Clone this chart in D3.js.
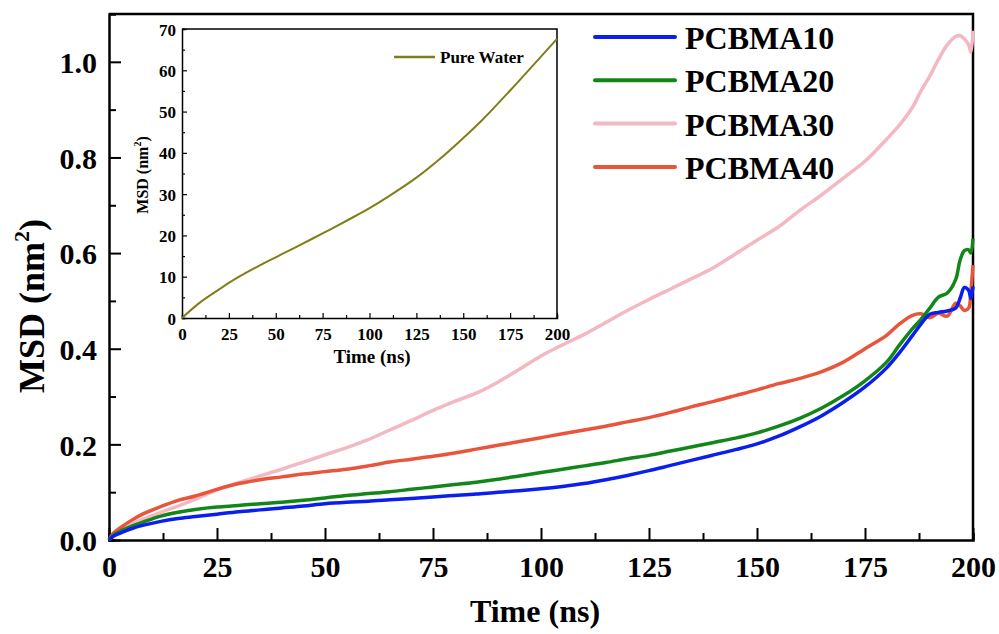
<!DOCTYPE html>
<html><head><meta charset="utf-8">
<script src="https://cdn.jsdelivr.net/npm/d3@7"></script>
<style>body{margin:0;background:#fff}svg{display:block}text{font-family:"Liberation Serif","Times New Roman",serif;font-weight:bold;fill:#000}</style>
</head><body>
<svg id="c" width="999" height="634"></svg>
<script>
const times = [0,1,3,5,8,12,16,20,25,30,35,40,45,50,55,60,65,70,75,80,85,90,95,100,105,110,115,120,125,130,135,140,145,150,155,160,165,170,175,180,183,186,188,190,192,194,196,197,198,199,199.5,200];
const pcbma10 = [0,0.008,0.016,0.023,0.031,0.039,0.045,0.049,0.054,0.059,0.063,0.067,0.071,0.076,0.079,0.081,0.084,0.087,0.090,0.093,0.096,0.100,0.103,0.107,0.112,0.118,0.126,0.135,0.145,0.156,0.167,0.178,0.189,0.201,0.217,0.237,0.260,0.288,0.320,0.360,0.392,0.428,0.452,0.472,0.476,0.479,0.485,0.505,0.528,0.522,0.505,0.530];
const pcbma20 = [0,0.010,0.020,0.028,0.038,0.050,0.058,0.064,0.069,0.072,0.076,0.079,0.083,0.088,0.093,0.097,0.101,0.106,0.111,0.116,0.121,0.127,0.134,0.141,0.148,0.155,0.162,0.170,0.177,0.186,0.195,0.204,0.213,0.224,0.238,0.255,0.276,0.302,0.333,0.372,0.408,0.442,0.462,0.485,0.508,0.516,0.545,0.585,0.605,0.607,0.600,0.630];
const pcbma30 = [0,0.010,0.022,0.032,0.044,0.058,0.071,0.085,0.105,0.120,0.134,0.148,0.163,0.178,0.193,0.210,0.230,0.250,0.271,0.290,0.307,0.330,0.357,0.385,0.408,0.430,0.455,0.480,0.503,0.525,0.547,0.570,0.598,0.627,0.655,0.690,0.722,0.757,0.792,0.838,0.868,0.905,0.940,0.970,1.005,1.035,1.053,1.055,1.048,1.035,1.020,1.065];
const pcbma40 = [0,0.014,0.028,0.040,0.055,0.070,0.083,0.092,0.106,0.118,0.126,0.132,0.138,0.143,0.148,0.155,0.163,0.169,0.175,0.182,0.190,0.198,0.206,0.214,0.222,0.230,0.238,0.247,0.256,0.267,0.279,0.290,0.302,0.314,0.327,0.338,0.352,0.372,0.400,0.428,0.452,0.470,0.473,0.465,0.474,0.468,0.495,0.490,0.480,0.485,0.520,0.575];
const seriesNames = ["PCBMA10","PCBMA20","PCBMA30","PCBMA40"];
const seriesColors = ["#0a1ef0","#13861a","#f3b8c2","#e8553a"];
const seriesValues = [pcbma10,pcbma20,pcbma30,pcbma40];
const drawOrder = [2,3,1,0];
const xTicks = [0,25,50,75,100,125,150,175,200];
const yTicks = [0,0.2,0.4,0.6,0.8,1.0];

const waterTimes = [0,10,20,25,30,40,50,60,75,90,100,110,125,140,150,160,175,190,200];
const waterMSD = [0,3.9,7.0,8.5,9.9,12.4,14.7,17.0,20.5,24.1,26.6,29.4,34.0,39.5,43.6,47.9,55.1,62.6,67.6];
const insetYTicks = [0,10,20,30,40,50,60,70];

const svg = d3.select("#c");
const M = {l:109, r:973, t:14, b:540};
const x = d3.scaleLinear().domain([0,200]).range([M.l,M.r]);
const y = d3.scaleLinear().domain([0,1.1]).range([M.b,M.t]);

// main axes
const gx = svg.append("g").attr("transform",`translate(0,${M.b})`)
  .call(d3.axisBottom(x).tickValues(d3.range(0,201,12.5)).tickSize(-7).tickFormat(""));
gx.selectAll(".tick line").filter(d=>d%25===0).attr("y2",-12);
const gxl = svg.append("g").attr("transform",`translate(0,${M.b})`)
  .call(d3.axisBottom(x).tickValues(xTicks).tickSize(0).tickPadding(36));
gxl.select(".domain").remove();
gxl.selectAll("text").attr("font-size",30).attr("dy",0).attr("y",37);

const gy = svg.append("g").attr("transform",`translate(${M.l},0)`)
  .call(d3.axisLeft(y).tickValues(d3.range(0,1.01,0.1)).tickSize(-7).tickFormat(""));
gy.selectAll(".tick line").filter((d,i)=>i%2===0).attr("x2",12);
const gyl = svg.append("g").attr("transform",`translate(${M.l},0)`)
  .call(d3.axisLeft(y).tickValues(yTicks).tickSize(0).tickPadding(12).tickFormat(d3.format(".1f")));
gyl.select(".domain").remove();
gyl.selectAll("text").attr("font-size",30).attr("dy","0.36em");
svg.selectAll(".domain").attr("stroke-width",2.5);
svg.selectAll(".tick line").attr("stroke-width",2);
// frame
svg.append("path").attr("d",`M${M.l},${M.t}H${M.r}V${M.b}`).attr("fill","none").attr("stroke","#000").attr("stroke-width",2.5);

// lines
const line = vals => d3.line().x((d,i)=>x(times[i])).y(d=>y(d)).curve(d3.curveCatmullRom.alpha(0.5))(vals);
drawOrder.forEach(k=>{
  svg.append("path").attr("d",line(seriesValues[k])).attr("fill","none")
    .attr("stroke",seriesColors[k]).attr("stroke-width",3.5).attr("stroke-linejoin","round");
});

// legend
seriesNames.forEach((n,i)=>{
  const ly = 37 + i*43.3;
  svg.append("line").attr("x1",595).attr("x2",675).attr("y1",ly).attr("y2",ly)
    .attr("stroke",seriesColors[i]).attr("stroke-width",4).attr("stroke-linecap","round");
  svg.append("text").attr("x",685).attr("y",ly+12).attr("font-size",32).text(n);
});

// axis titles
svg.append("text").attr("x",535).attr("y",622).attr("text-anchor","middle").attr("font-size",32).text("Time (ns)");
const yt = svg.append("text").attr("transform","translate(44,306) rotate(-90)").attr("text-anchor","middle").attr("font-size",36);
yt.append("tspan").text("MSD (nm");
yt.append("tspan").attr("font-size",22).attr("dy",-15).text("2");
yt.append("tspan").attr("dy",15).text(")");

// inset
const I = {l:182, r:557, t:29, b:318};
const ix = d3.scaleLinear().domain([0,200]).range([I.l,I.r]);
const iy = d3.scaleLinear().domain([0,70]).range([I.b,I.t]);
svg.append("rect").attr("x",I.l).attr("y",I.t).attr("width",I.r-I.l).attr("height",I.b-I.t).attr("fill","#fff");
const ig = svg.append("g");
const igx = ig.append("g").attr("transform",`translate(0,${I.b})`)
  .call(d3.axisBottom(ix).tickValues(d3.range(0,201,12.5)).tickSize(-3).tickFormat(""));
igx.selectAll(".tick line").filter(d=>d%25===0).attr("y2",-5);
const igxl = ig.append("g").attr("transform",`translate(0,${I.b})`)
  .call(d3.axisBottom(ix).tickValues(xTicks).tickSize(0));
igxl.select(".domain").remove();
igxl.selectAll("text").attr("font-size",17).attr("dy",0).attr("y",22);
const igy = ig.append("g").attr("transform",`translate(${I.l},0)`)
  .call(d3.axisLeft(iy).tickValues(d3.range(0,71,5)).tickSize(-3).tickFormat(""));
igy.selectAll(".tick line").filter(d=>d%10===0).attr("x2",5);
const igyl = ig.append("g").attr("transform",`translate(${I.l},0)`)
  .call(d3.axisLeft(iy).tickValues(insetYTicks).tickSize(0).tickPadding(6));
igyl.select(".domain").remove();
igyl.selectAll("text").attr("font-size",17).attr("dy","0.36em");
ig.selectAll(".domain").attr("stroke-width",1.5);
ig.selectAll(".tick line").attr("stroke-width",1.2);
ig.append("path").attr("d",`M${I.l},${I.t}H${I.r}V${I.b}`).attr("fill","none").attr("stroke","#000").attr("stroke-width",1.5);
ig.append("path").attr("d",d3.line().x((d,i)=>ix(waterTimes[i])).y(d=>iy(d)).curve(d3.curveCatmullRom.alpha(0.5))(waterMSD))
  .attr("fill","none").attr("stroke","#7f7f1a").attr("stroke-width",2);
ig.append("line").attr("x1",394).attr("x2",435).attr("y1",57).attr("y2",57).attr("stroke","#7f7f1a").attr("stroke-width",2.5);
ig.append("text").attr("x",440).attr("y",63).attr("font-size",17).text("Pure Water");
ig.append("text").attr("x",372).attr("y",363).attr("text-anchor","middle").attr("font-size",19).text("Time (ns)");
const iyt = ig.append("text").attr("transform","translate(148,175) rotate(-90)").attr("text-anchor","middle").attr("font-size",16);
iyt.append("tspan").text("MSD (nm");
iyt.append("tspan").attr("font-size",10).attr("dy",-7).text("2");
iyt.append("tspan").attr("dy",7).text(")");
</script>
</body></html>
